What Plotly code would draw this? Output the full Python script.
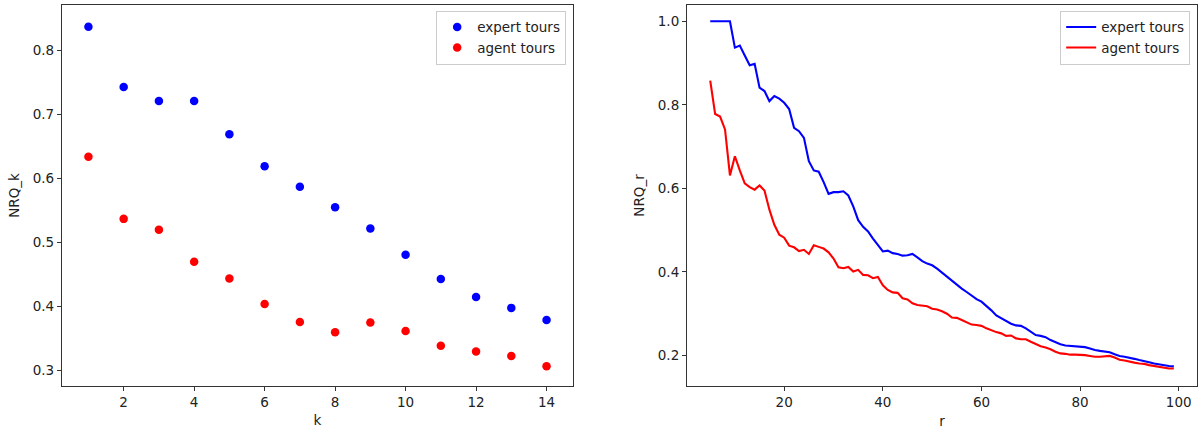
import plotly.graph_objects as go
from plotly.subplots import make_subplots

# ---- left panel data (NRQ_k vs k) ----
k_vals = list(range(1, 15))
expert_k = [0.837, 0.743, 0.721, 0.721, 0.669, 0.619, 0.587, 0.555, 0.522, 0.481, 0.443, 0.415, 0.398, 0.379]
agent_k = [0.634, 0.537, 0.520, 0.470, 0.444, 0.404, 0.376, 0.360, 0.375, 0.362, 0.339, 0.330, 0.323, 0.307]

# ---- right panel data (NRQ_r vs r) ----
r_vals = list(range(5, 100))
expert_r = [
    1.000, 1.000, 1.000, 1.000, 1.000, 0.937, 0.942, 0.918, 0.895, 0.898,  # 5-14
    0.841, 0.833, 0.809, 0.821, 0.815, 0.805, 0.790, 0.745, 0.737, 0.721,  # 15-24
    0.665, 0.643, 0.640, 0.615, 0.587, 0.591, 0.591, 0.593, 0.583, 0.557,  # 25-34
    0.524, 0.508, 0.497, 0.480, 0.463, 0.449, 0.451, 0.445, 0.443, 0.439,  # 35-44
    0.440, 0.443, 0.435, 0.426, 0.420, 0.416, 0.408, 0.398, 0.389, 0.379,  # 45-54
    0.369, 0.360, 0.352, 0.343, 0.335, 0.329, 0.319, 0.308, 0.296, 0.289,  # 55-64
    0.283, 0.276, 0.272, 0.271, 0.265, 0.257, 0.249, 0.247, 0.244, 0.237,  # 65-74
    0.231, 0.227, 0.224, 0.223, 0.222, 0.221, 0.220, 0.217, 0.213, 0.211,  # 75-84
    0.209, 0.208, 0.203, 0.199, 0.197, 0.195, 0.192, 0.189, 0.187, 0.184,  # 85-94
    0.181, 0.179, 0.176, 0.175, 0.174,                                     # 95-99
]
agent_r = [
    0.858, 0.778, 0.772, 0.741, 0.631, 0.677, 0.643, 0.612, 0.603, 0.597,  # 5-14
    0.607, 0.595, 0.549, 0.513, 0.489, 0.482, 0.463, 0.459, 0.450, 0.453,  # 15-24
    0.443, 0.464, 0.460, 0.456, 0.447, 0.432, 0.411, 0.409, 0.412, 0.401,  # 25-34
    0.405, 0.393, 0.392, 0.385, 0.388, 0.368, 0.357, 0.351, 0.350, 0.337,  # 35-44
    0.334, 0.325, 0.321, 0.320, 0.318, 0.312, 0.310, 0.306, 0.300, 0.291,  # 45-54
    0.290, 0.285, 0.280, 0.274, 0.273, 0.271, 0.265, 0.260, 0.256, 0.253,  # 55-64
    0.247, 0.248, 0.241, 0.239, 0.239, 0.233, 0.228, 0.222, 0.219, 0.215,  # 65-74
    0.209, 0.205, 0.204, 0.202, 0.202, 0.202, 0.201, 0.199, 0.197, 0.197,  # 75-84
    0.198, 0.199, 0.195, 0.190, 0.188, 0.185, 0.183, 0.181, 0.180, 0.177,  # 85-94
    0.175, 0.173, 0.171, 0.169, 0.169,                                     # 95-99
]

left_xticks = [2, 4, 6, 8, 10, 12, 14]
left_yticks = [0.3, 0.4, 0.5, 0.6, 0.7, 0.8]
right_xticks = [20, 40, 60, 80, 100]
right_yticks = [0.2, 0.4, 0.6, 0.8, 1.0]

BLUE = "#0000ff"
RED = "#ff0000"
FONT = "DejaVu Sans"

fig = make_subplots(rows=1, cols=2, horizontal_spacing=0.1)

fig.add_trace(go.Scatter(x=k_vals, y=expert_k, mode="markers", name="expert tours",
                         marker=dict(color=BLUE, size=8.5), legend="legend"), row=1, col=1)
fig.add_trace(go.Scatter(x=k_vals, y=agent_k, mode="markers", name="agent tours",
                         marker=dict(color=RED, size=8.5), legend="legend"), row=1, col=1)
fig.add_trace(go.Scatter(x=r_vals, y=expert_r, mode="lines", name="expert tours",
                         line=dict(color=BLUE, width=2.1), legend="legend2"), row=1, col=2)
fig.add_trace(go.Scatter(x=r_vals, y=agent_r, mode="lines", name="agent tours",
                         line=dict(color=RED, width=2.1), legend="legend2"), row=1, col=2)

axis_common = dict(showline=True, mirror=True, linecolor="#333333", linewidth=1.2,
                   ticks="outside", ticklen=4, tickwidth=1, tickcolor="#333333",
                   showgrid=False, zeroline=False,
                   tickfont=dict(family=FONT, size=13.5, color="#222222"),
                   title_font=dict(family=FONT, size=13.5, color="#222222"))

fig.update_xaxes(axis_common)
fig.update_yaxes(axis_common)

fig.update_xaxes(domain=[0.0, 0.4502], range=[0.25, 14.75], tickvals=left_xticks,
                 title_text="k", title_standoff=6, row=1, col=1)
fig.update_yaxes(range=[0.276, 0.871], tickvals=left_yticks, tickformat=".1f",
                 title_text="NRQ_k", title_standoff=9, row=1, col=1)
fig.update_xaxes(domain=[0.5507, 1.0], range=[0.3, 103.7], tickvals=right_xticks,
                 title_text="r", title_standoff=8, row=1, col=2)
fig.update_yaxes(range=[0.127, 1.039], tickvals=right_yticks, tickformat=".1f",
                 title_text="NRQ_r", title_standoff=10, row=1, col=2)

legend_common = dict(bgcolor="rgba(255,255,255,0.8)", bordercolor="#cccccc", borderwidth=1,
                     font=dict(family=FONT, size=13.5, color="#222222"),
                     xanchor="right", yanchor="top", tracegroupgap=0)

fig.update_layout(
    width=1198, height=429,
    margin=dict(l=62, r=1, t=5, b=43),
    paper_bgcolor="white", plot_bgcolor="white",
    legend=dict(legend_common, x=0.4502 - 0.006, y=0.985),
    legend2=dict(legend_common, x=0.994, y=0.985),
    showlegend=True,
)

fig.write_html("out.html")
